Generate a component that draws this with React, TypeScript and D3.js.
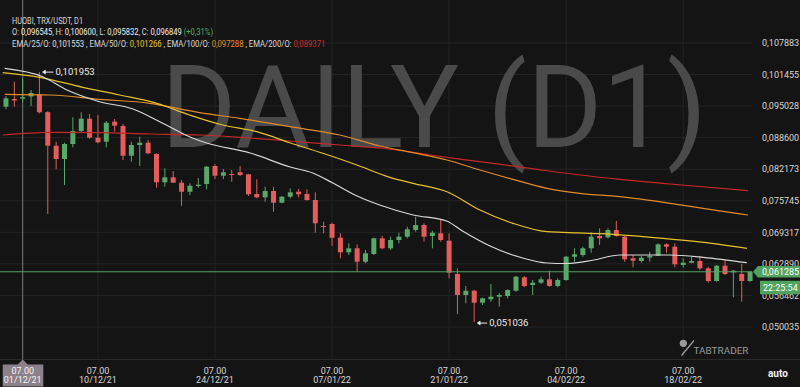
import React, { useLayoutEffect, useRef, useState } from "react";
import * as d3 from "d3";

const W = 800;
const H = 387;

// ---- data ----
const startDate = Date.UTC(2021, 10, 29); // first candle 29/11/21
const DAY = 86400000;
const crosshairDate = Date.UTC(2021, 11, 1);

const opens = [
  0.094907, 0.096476, 0.096545, 0.096985, 0.097433, 0.0938, 0.086963, 0.084254, 0.087309, 0.089957,
  0.092463, 0.088592, 0.087778, 0.091852, 0.090976, 0.084926, 0.087105, 0.087574, 0.085272, 0.079507,
  0.080526, 0.079426, 0.077593, 0.078754, 0.079161, 0.082828, 0.080852, 0.081198, 0.081544, 0.081137,
  0.077124, 0.076452, 0.077735, 0.075352, 0.076574, 0.077593, 0.077124, 0.075902, 0.070606, 0.071013,
  0.068222, 0.065248, 0.066063, 0.063334, 0.064902, 0.0681, 0.066063, 0.067754, 0.068426, 0.069791,
  0.070809, 0.068569, 0.069119, 0.067611, 0.060828, 0.05655, 0.057426, 0.054982, 0.055675, 0.056204,
  0.056347, 0.057426, 0.060156, 0.058587, 0.059056, 0.059749, 0.058384, 0.059606, 0.064352, 0.064698,
  0.066063, 0.068569, 0.068304, 0.069791, 0.068426, 0.064026, 0.063476, 0.064189, 0.064556, 0.066878,
  0.066389, 0.062661, 0.06313, 0.063476, 0.061989, 0.059402, 0.062519, 0.061174, 0.060828, 0.059402,
];
const highs = [
  0.097087, 0.1, 0.1006, 0.098309, 0.101953, 0.094, 0.087778, 0.087574, 0.092748, 0.093766,
  0.09342, 0.093216, 0.091994, 0.092402, 0.091383, 0.087778, 0.088796, 0.088124, 0.085415, 0.082359,
  0.081809, 0.079976, 0.079304, 0.080383, 0.082828, 0.083174, 0.082217, 0.082013, 0.082828, 0.081137,
  0.080119, 0.078611, 0.078611, 0.076717, 0.078285, 0.078143, 0.07808, 0.07747, 0.071482, 0.071278,
  0.069119, 0.067082, 0.066878, 0.065717, 0.068222, 0.068569, 0.068426, 0.069241, 0.070463, 0.0725,
  0.071156, 0.069648, 0.071828, 0.069119, 0.061989, 0.058384, 0.057569, 0.056001, 0.058791, 0.056897,
  0.057712, 0.060421, 0.060421, 0.059606, 0.060278, 0.0615, 0.059952, 0.064495, 0.066063, 0.066389,
  0.069322, 0.070137, 0.070137, 0.071624, 0.068569, 0.064698, 0.064495, 0.065371, 0.067082, 0.067082,
  0.067082, 0.064026, 0.064352, 0.064495, 0.062315, 0.062661, 0.06368, 0.061643, 0.062865, 0.0613,
];
const lows = [
  0.094378, 0.094907, 0.095832, 0.09505, 0.093563, 0.07305, 0.082156, 0.078957, 0.086637, 0.089611,
  0.088389, 0.087452, 0.086637, 0.089815, 0.08405, 0.083704, 0.082828, 0.085272, 0.078408, 0.078611,
  0.0794, 0.074741, 0.07692, 0.078408, 0.078082, 0.08018, 0.08018, 0.07963, 0.080791, 0.076717,
  0.076248, 0.075556, 0.073519, 0.07523, 0.076248, 0.076452, 0.075759, 0.069241, 0.069119, 0.066532,
  0.064026, 0.064698, 0.061297, 0.063008, 0.064698, 0.06586, 0.065717, 0.067082, 0.0681, 0.069445,
  0.067408, 0.066063, 0.067408, 0.059952, 0.05268, 0.05486, 0.051036, 0.054513, 0.055186, 0.054167,
  0.055878, 0.057222, 0.058119, 0.05655, 0.058791, 0.058241, 0.058119, 0.059463, 0.063334, 0.064352,
  0.065167, 0.066735, 0.0681, 0.068426, 0.063334, 0.062192, 0.06313, 0.063334, 0.064495, 0.065167,
  0.062192, 0.062192, 0.063008, 0.061643, 0.059056, 0.05926, 0.060624, 0.056082, 0.055186, 0.05926,
];
const closes = [
  0.096618, 0.09617, 0.096849, 0.097698, 0.093766, 0.086963, 0.084254, 0.087309, 0.089957, 0.092463,
  0.088592, 0.087655, 0.091648, 0.091037, 0.084926, 0.087105, 0.087574, 0.085415, 0.079507, 0.080526,
  0.079426, 0.077593, 0.078815, 0.079019, 0.082685, 0.080852, 0.081544, 0.080994, 0.080994, 0.077063,
  0.076452, 0.077735, 0.075352, 0.076574, 0.07747, 0.077063, 0.075902, 0.071156, 0.070402, 0.068222,
  0.065248, 0.066063, 0.063334, 0.065045, 0.0681, 0.066063, 0.067754, 0.068426, 0.069934, 0.070809,
  0.068426, 0.069241, 0.067754, 0.061092, 0.05655, 0.057426, 0.054982, 0.055878, 0.056204, 0.05655,
  0.057569, 0.060278, 0.058384, 0.059056, 0.059749, 0.058384, 0.059606, 0.064352, 0.064841, 0.066063,
  0.068426, 0.0681, 0.069791, 0.068569, 0.063822, 0.063537, 0.064149, 0.064495, 0.066878, 0.066389,
  0.062804, 0.06313, 0.063476, 0.061989, 0.059402, 0.062519, 0.060828, 0.0615, 0.059402, 0.061285,
];

// EMA readings: [days from 01/12/21, value]
const ema25 = [
  [-2.15, 0.102729], [2.4, 0.101018], [5.3, 0.098309], [9.2, 0.095926], [13.2, 0.094439],
  [16.4, 0.091852], [20.3, 0.088531], [22, 0.087513], [27.2, 0.085476], [32, 0.082624],
  [34.7, 0.081402], [37.1, 0.079365], [40, 0.076717], [42.7, 0.074883], [46.7, 0.072846],
  [50.7, 0.071624], [52.6, 0.069587], [55.9, 0.066532], [59.8, 0.064087], [62.7, 0.063069],
  [65.1, 0.062967], [68.3, 0.06368], [71.4, 0.064698], [77.4, 0.064698], [81.4, 0.06423],
  [86.6, 0.06313],
];
const ema50 = [
  [-2.39, 0.101833], [2.03, 0.100896], [7.18, 0.098859], [11.61, 0.09729], [16.03, 0.0956],
  [19.98, 0.093216], [23.93, 0.091179], [28, 0.089815], [31.95, 0.087574], [35.9, 0.085415],
  [39.97, 0.083031], [43.92, 0.080526], [46.67, 0.079304], [50.74, 0.077593], [54.69, 0.073865],
  [58.63, 0.071156], [62.7, 0.069445], [64.6, 0.069322], [70.6, 0.068915], [76.6, 0.0681],
  [80.65, 0.067408], [86.63, 0.066063],
];
const ema100 = [
  [-2.15, 0.097433], [3.23, 0.09729], [9.21, 0.096415], [15.2, 0.0956], [21.18, 0.093685],
  [25.97, 0.092544], [31.95, 0.090833], [37.93, 0.089142], [42.72, 0.086902], [46.67, 0.085537],
  [50.74, 0.08405], [54.69, 0.082013], [58.63, 0.080118], [62.7, 0.078285], [66.65, 0.077267],
  [71.44, 0.076574], [77.42, 0.07523], [81.37, 0.074211], [86.75, 0.072846],
];
const ema200 = [
  [-2.39, 0.089142], [3.23, 0.089692], [9.21, 0.089611], [15.2, 0.089346], [21.18, 0.089142],
  [25.97, 0.088674], [31.95, 0.08792], [37.93, 0.087105], [43.3, 0.086392], [48.7, 0.085068],
  [54.69, 0.083704], [60.67, 0.082359], [66.65, 0.080994], [71.44, 0.080118], [77.42, 0.079161],
  [86.75, 0.077796],
];

const priceTicks = [0.107883, 0.101455, 0.095028, 0.0886, 0.082173, 0.075745, 0.069317, 0.06289, 0.056462, 0.050035];
const dateTicks = [
  Date.UTC(2021, 11, 10), Date.UTC(2021, 11, 24), Date.UTC(2022, 0, 7),
  Date.UTC(2022, 0, 21), Date.UTC(2022, 1, 4), Date.UTC(2022, 1, 18),
];
const lastPrice = 0.061285;
const countdown = "22:25:54";

const headerTitle = "HUOBI, TRX/USDT, D1";
const headerOHLC = { o: 0.096545, h: 0.1006, l: 0.095832, c: 0.096849, chg: "+0,31%" };
const headerEMA = [
  { name: "EMA/25/O", value: 0.101553, color: "#e0e0e0" },
  { name: "EMA/50/O", value: 0.101266, color: "#e8c32e" },
  { name: "EMA/100/O", value: 0.097288, color: "#e28a2c" },
  { name: "EMA/200/O", value: 0.089371, color: "#d02a2a" },
];

// ---- styles ----
const BG = "#141414";
const GRID = "#242424";
const UP = "#58a86a";
const DOWN = "#e35d5d";
const TXT = "#d6d6d6";
const FONT = "Roboto, 'Noto Sans', sans-serif";

const fmt = (v: number) => d3.format(".6f")(v).replace(".", ",");

const headerTargets = [71, 201, 313];

export default function App() {
  const plotRight = 752;
  const plotBottom = 359.5;

  const refs = [useRef<SVGTextElement>(null), useRef<SVGTextElement>(null), useRef<SVGTextElement>(null)];
  const [scales, setScales] = useState([0.82, 0.84, 0.84]);

  useLayoutEffect(() => {
    const s = refs.map((r, i) => {
      const el = r.current;
      if (!el) return 0.82;
      const w = el.getComputedTextLength();
      return w > 0 ? headerTargets[i] / w : 0.82;
    });
    setScales(s);
    // eslint-disable-next-line react-hooks/exhaustive-deps
  }, []);

  const x = d3
    .scaleUtc()
    .domain([new Date(crosshairDate), new Date(Date.UTC(2022, 1, 18))])
    .range([22.7, 683.2]);
  const y = d3.scaleLinear().domain([0.050035, 0.107883]).range([327, 43]);

  const candles = opens.map((o, i) => ({
    date: new Date(startDate + i * DAY),
    o,
    h: highs[i],
    l: lows[i],
    c: closes[i],
  }));

  const dayToDate = (d: number) => new Date(crosshairDate + d * DAY);
  const line = d3
    .line<number[]>()
    .x((p) => x(dayToDate(p[0])))
    .y((p) => y(p[1]))
    .curve(d3.curveMonotoneX);

  const bodyW = 5;

  const maxIdx = d3.maxIndex(highs);
  const minIdx = d3.minIndex(lows);
  const maxX = x(candles[maxIdx].date);
  const maxY = y(highs[maxIdx]);
  const minX = x(candles[minIdx].date);
  const minY = y(lows[minIdx]);

  const chX = x(new Date(crosshairDate));
  const lpY = y(lastPrice);

  const dateFmt = d3.utcFormat("%d/%m/%y");

  return (
    <svg
      width={W}
      height={H}
      style={{ position: "absolute", left: 0, top: 0, display: "block" }}
      fontFamily={FONT}
    >
      <rect x={0} y={0} width={W} height={H} fill={BG} />

      {/* grid */}
      {priceTicks.map((t) => (
        <line key={"hg" + t} x1={0} x2={plotRight} y1={y(t)} y2={y(t)} stroke={GRID} strokeWidth={1} />
      ))}
      {dateTicks.map((t) => (
        <line key={"vg" + t} x1={x(new Date(t))} x2={x(new Date(t))} y1={0} y2={plotBottom} stroke={GRID} strokeWidth={1} />
      ))}
      <line x1={0} x2={W} y1={plotBottom} y2={plotBottom} stroke="#2a2a2a" strokeWidth={1} />

      {/* watermark */}
      <text x={434} y={146.5} textAnchor="middle" fontSize={115} fill="#4a4a4a" fontFamily={FONT}>
        DAILY (D1)
      </text>

      {/* crosshair */}
      <line x1={chX} x2={chX} y1={0} y2={plotBottom} stroke="#7c7c7c" strokeWidth={1} />

      {/* candles */}
      {candles.map((c, i) => {
        const cx = x(c.date);
        const up = c.c >= c.o;
        const col = up ? UP : DOWN;
        const top = y(Math.max(c.o, c.c));
        const bot = y(Math.min(c.o, c.c));
        return (
          <g key={i}>
            <line x1={cx} x2={cx} y1={y(c.h)} y2={y(c.l)} stroke={col} strokeWidth={1} />
            <rect x={cx - bodyW / 2} y={top} width={bodyW} height={Math.max(1, bot - top)} fill={col} />
          </g>
        );
      })}

      {/* EMAs */}
      <path d={line(ema200 as number[][]) || ""} fill="none" stroke="#c62828" strokeWidth={1.2} />
      <path d={line(ema100 as number[][]) || ""} fill="none" stroke="#e08a2a" strokeWidth={1.2} />
      <path d={line(ema50 as number[][]) || ""} fill="none" stroke="#e6c12c" strokeWidth={1.2} />
      <path d={line(ema25 as number[][]) || ""} fill="none" stroke="#d8d8d8" strokeWidth={1.2} />

      {/* last price line */}
      <line x1={0} x2={plotRight} y1={lpY} y2={lpY} stroke="#5a9e64" strokeWidth={1} />

      {/* max / min markers */}
      <g fill="#eeeeee" stroke="#eeeeee">
        <line x1={maxX + 4} x2={maxX + 14} y1={maxY} y2={maxY} strokeWidth={1} />
        <path d={`M${maxX + 3},${maxY} l3,-2 v4 z`} strokeWidth={0.5} />
        <text x={maxX + 16} y={maxY + 3.2} fontSize={9.5} stroke="none">{fmt(highs[maxIdx])}</text>
        <line x1={minX + 4} x2={minX + 13} y1={minY + 1} y2={minY + 1} strokeWidth={1} />
        <path d={`M${minX + 3},${minY + 1} l3,-2 v4 z`} strokeWidth={0.5} />
        <text x={minX + 15} y={minY + 4.2} fontSize={9.5} stroke="none">{fmt(lows[minIdx])}</text>
      </g>

      {/* header (horizontally condensed like the app's font) */}
      <g transform={`translate(12,23.5) scale(${scales[0]},1)`}>
        <text ref={refs[0]} x={0} y={0} fontSize={9} fill={TXT}>
          {headerTitle}
        </text>
      </g>
      <g transform={`translate(12,35) scale(${scales[1]},1)`}>
        <text ref={refs[1]} x={0} y={0} fontSize={9} fill={TXT}>
          <tspan>O: </tspan>
          <tspan fill="#f0f0f0">{fmt(headerOHLC.o)}</tspan>
          <tspan>, H: </tspan>
          <tspan fill="#f0f0f0">{fmt(headerOHLC.h)}</tspan>
          <tspan>, L: </tspan>
          <tspan fill="#f0f0f0">{fmt(headerOHLC.l)}</tspan>
          <tspan>, C: </tspan>
          <tspan fill="#f0f0f0">{fmt(headerOHLC.c)}</tspan>
          <tspan fill="#5cae62"> ({headerOHLC.chg})</tspan>
        </text>
      </g>
      <g transform={`translate(12,46.5) scale(${scales[2]},1)`}>
        <text ref={refs[2]} x={0} y={0} fontSize={9} fill={TXT}>
          {headerEMA.map((e, i) => (
            <React.Fragment key={e.name}>
              <tspan>{(i > 0 ? " , " : "") + e.name + ": "}</tspan>
              <tspan fill={e.color}>{fmt(e.value)}</tspan>
            </React.Fragment>
          ))}
        </text>
      </g>

      {/* price axis labels */}
      {priceTicks.map((t) => (
        <text key={"pl" + t} x={762} y={y(t) + 3.2} fontSize={9} fill={TXT}>
          {fmt(t)}
        </text>
      ))}

      {/* last price tag */}
      <path d={`M${plotRight + 1},${lpY} L${plotRight + 6},${lpY - 5.8} H${W} V${lpY + 5.8} H${plotRight + 6} Z`} fill="#4fa35f" />
      <text x={762} y={lpY + 3.3} fontSize={9} fill="#ffffff">{fmt(lastPrice)}</text>
      <rect x={760} y={lpY + 9} width={40} height={13.5} fill="#4fa35f" />
      <text x={763} y={lpY + 19} fontSize={9} fill="#ffffff">{countdown}</text>

      {/* date axis */}
      {dateTicks.map((t) => (
        <g key={"dl" + t}>
          <text x={x(new Date(t))} y={373.5} fontSize={9} fill={TXT} textAnchor="middle">07.00</text>
          <text x={x(new Date(t))} y={383} fontSize={9} fill={TXT} textAnchor="middle">{dateFmt(new Date(t))}</text>
        </g>
      ))}

      {/* crosshair date tag */}
      <path
        d={`M${chX},${plotBottom} L${chX + 5},${364.5} H${43.3} V${386.5} H${2.7} V${364.5} H${chX - 5} Z`}
        fill="#8c818a"
      />
      <text x={chX} y={373.5} fontSize={9} fill="#f4f4f4" textAnchor="middle">07.00</text>
      <text x={chX} y={383} fontSize={9} fill="#f4f4f4" textAnchor="middle">{dateFmt(new Date(crosshairDate))}</text>

      {/* logo */}
      <circle cx={683.3} cy={343.3} r={3.6} fill="#9a9a9a" />
      <line x1={681.5} y1={355.5} x2={694} y2={340.5} stroke="#9a9a9a" strokeWidth={1.3} />
      <text x={693.5} y={354} fontSize={9.5} fill="#9a9a9a" textLength={55} lengthAdjust="spacingAndGlyphs">
        TABTRADER
      </text>

      <text x={768} y={377} fontSize={10} fontWeight="bold" fill="#f2f2f2">auto</text>
    </svg>
  );
}
